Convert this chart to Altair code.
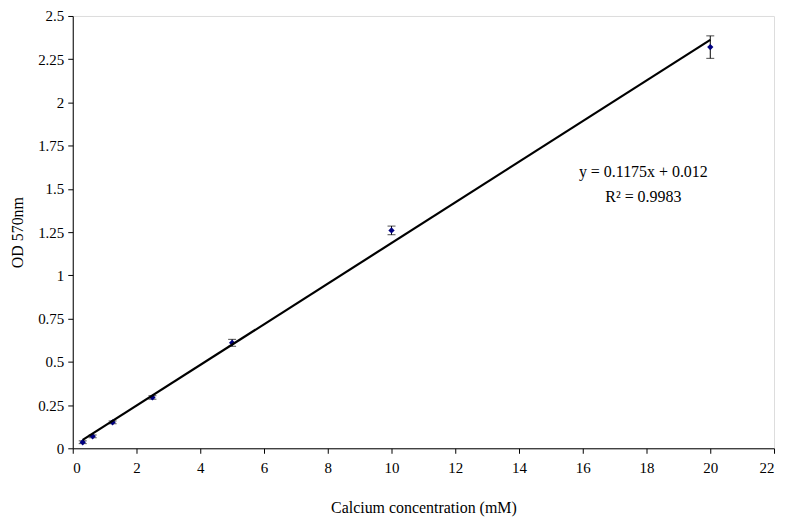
import altair as alt
import pandas as pd

conc = [0.3125, 0.625, 1.25, 2.5, 5, 10, 20]
od = [0.035, 0.069, 0.15, 0.294, 0.61, 1.26, 2.32]
err = [0.008, 0.008, 0.008, 0.01, 0.02, 0.025, 0.065]

slope = 0.1175
intercept = 0.012
eq_lines = ["y = 0.1175x + 0.012", "R² = 0.9983"]
eq_x = [17.9, 17.9]
eq_y = [1.60, 1.455]

df = pd.DataFrame({"conc": conc, "od": od, "err": err})
df["lo"] = df["od"] - df["err"]
df["hi"] = df["od"] + df["err"]
line_df = pd.DataFrame({"conc": [min(conc), max(conc)]})
txt_df = pd.DataFrame({"t": eq_lines, "x": eq_x, "y": eq_y})

FONT = "Liberation Serif"

xscale = alt.Scale(domain=[0, 22], nice=False, zero=True)
yscale = alt.Scale(domain=[0, 2.5], nice=False)

xaxis = alt.Axis(title="Calcium concentration (mM)", values=list(range(0, 23, 2)),
                 grid=False, tickSize=5, labelPadding=7, titlePadding=24,
                 domainColor="black", tickColor="black", labelColor="black",
                 titleColor="black", labelFont=FONT, titleFont=FONT,
                 labelFontSize=15, titleFontSize=16, titleFontWeight="normal")
yaxis = alt.Axis(title="OD 570nm", values=[i * 0.25 for i in range(11)],
                 grid=False, tickSize=5, labelPadding=4, titlePadding=12,
                 domainColor="black", tickColor="black", labelColor="black",
                 titleColor="black", labelFont=FONT, titleFont=FONT,
                 labelFontSize=15, titleFontSize=16, titleFontWeight="normal",
                 labelExpr="format(datum.value, '.4~f')")

base = alt.Chart(df)

rules = base.mark_rule(color="black", strokeWidth=1).encode(
    x=alt.X("conc:Q", scale=xscale, axis=xaxis),
    y=alt.Y("lo:Q", scale=yscale, axis=yaxis),
    y2="hi:Q",
)
caps_lo = base.mark_tick(color="black", thickness=1, size=8, orient="horizontal").encode(
    x=alt.X("conc:Q", scale=xscale), y=alt.Y("lo:Q", scale=yscale))
caps_hi = base.mark_tick(color="black", thickness=1, size=8, orient="horizontal").encode(
    x=alt.X("conc:Q", scale=xscale), y=alt.Y("hi:Q", scale=yscale))

pts = base.mark_point(shape="diamond", filled=True, color="#000080", size=40, opacity=1).encode(
    x=alt.X("conc:Q", scale=xscale), y=alt.Y("od:Q", scale=yscale))

trend = alt.Chart(line_df).transform_calculate(
    fit=f"{slope} * datum.conc + {intercept}"
).mark_line(color="black", strokeWidth=2.2).encode(
    x=alt.X("conc:Q", scale=xscale), y=alt.Y("fit:Q", scale=yscale))

txt = alt.Chart(txt_df).mark_text(font=FONT, fontSize=16, color="black", align="center").encode(
    x=alt.X("x:Q", scale=xscale), y=alt.Y("y:Q", scale=yscale), text="t:N")

chart = alt.layer(rules, caps_lo, caps_hi, pts, trend, txt).properties(
    width=704, height=434,
    autosize=alt.AutoSizeParams(type="none"),
    padding={"left": 65, "top": 7, "right": 5, "bottom": 75},
).configure_view(stroke="#808080", strokeWidth=1).configure(
    background="white", font=FONT
).configure_axis(labelFont=FONT, titleFont=FONT)

chart.save("out.html", embed_options={"renderer": "svg", "actions": False})
